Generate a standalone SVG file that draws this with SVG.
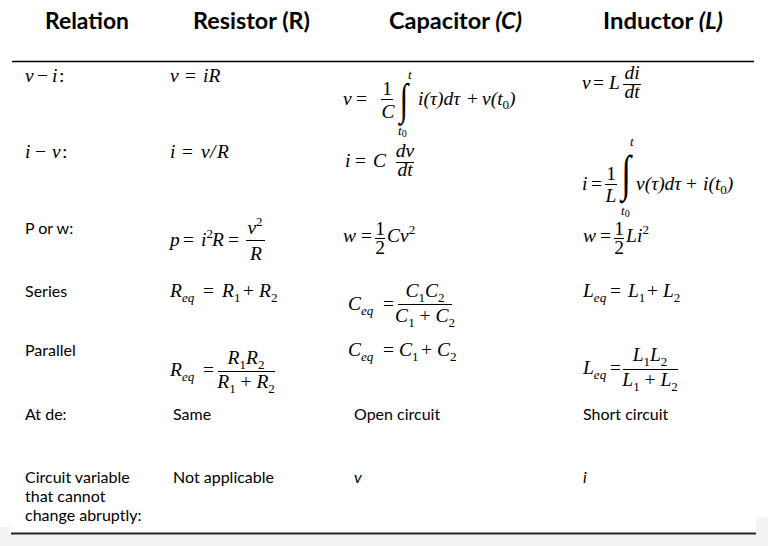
<svg xmlns="http://www.w3.org/2000/svg" width="768" height="546" viewBox="0 0 768 546">
<style>
.h{font-family:Lato,"Liberation Sans",sans-serif;font-weight:700;font-size:23.5px;fill:#000}
.hi{font-style:italic}
.t{font-family:Lato,"Liberation Sans",sans-serif;font-size:16px;fill:#000}
.ti{font-style:italic}
.m{font-family:"Liberation Serif","DejaVu Serif",serif;font-style:italic;font-size:19.5px;fill:#000}
.n{font-style:normal}
.s{font-size:13px}
.lim{font-size:13px}
.big{font-family:"Liberation Serif","DejaVu Serif",serif;font-style:normal;fill:#000}
.bar{stroke:#000;stroke-width:1}
.rule{stroke:#000;stroke-width:1.6}
</style>
<rect width="768" height="546" fill="#f3f3f3"/>
<path d="M0 0H768V517H756V535H10V527H0Z" fill="#fff"/>
<g id="rules">
<line class="rule" x1="12" y1="61.5" x2="754" y2="61.5"/>
<line x1="11" y1="533.5" x2="756" y2="533.5" stroke="#222" stroke-width="2"/>
</g>
<g id="header">
<text class="h" x="45" y="29" textLength="84" lengthAdjust="spacingAndGlyphs">Relation</text>
<text class="h" x="193" y="29" textLength="117" lengthAdjust="spacingAndGlyphs">Resistor (R)</text>
<text class="h" x="389" y="29" textLength="133" lengthAdjust="spacingAndGlyphs">Capacitor <tspan class="hi">(C)</tspan></text>
<text class="h" x="603" y="29" textLength="120" lengthAdjust="spacingAndGlyphs">Inductor <tspan class="hi">(L)</tspan></text>
</g>
<g id="row-vi">
<text class="m" y="82"><tspan x="25">v</tspan><tspan x="37" class="n">−</tspan><tspan x="52">i</tspan><tspan x="59" class="n">:</tspan></text>
<text class="m" y="82"><tspan x="170">v</tspan><tspan x="185" class="n">=</tspan><tspan x="203">iR</tspan></text>
<g id="cap-vi">
<text class="m" y="105"><tspan x="343">v</tspan><tspan x="356" class="n">=</tspan></text>
<text class="m n" x="387" y="94.5" text-anchor="middle">1</text>
<line class="bar" x1="381" y1="99.5" x2="393" y2="99.5"/>
<text class="m" x="388" y="118" text-anchor="middle">C</text>
<text class="big" font-size="44" transform="translate(404 114) scale(0.7 1)" text-anchor="middle">∫</text>
<text class="m lim" x="408" y="79">t</text>
<text class="m lim" x="398" y="135">t<tspan class="n" font-size="10" dy="2">0</tspan></text>
<text class="m" y="105"><tspan x="418">i(τ)dτ</tspan><tspan x="467" class="n">+</tspan><tspan x="482">v(t</tspan><tspan class="n s" dy="4">0</tspan><tspan dy="-4">)</tspan></text>
</g>
<g id="ind-vi">
<text class="m" y="88.5"><tspan x="582">v</tspan><tspan x="593" class="n">=</tspan><tspan x="609">L</tspan></text>
<text class="m" x="632" y="79" text-anchor="middle">di</text>
<line class="bar" x1="623" y1="84.5" x2="641" y2="84.5"/>
<text class="m" x="632" y="98" text-anchor="middle">dt</text>
</g>
</g>
<g id="row-iv">
<text class="m" y="158"><tspan x="25">i</tspan><tspan x="35" class="n">−</tspan><tspan x="52">v</tspan><tspan x="62" class="n">:</tspan></text>
<text class="m" y="158"><tspan x="170">i</tspan><tspan x="182" class="n">=</tspan><tspan x="201">v</tspan><tspan x="210">/</tspan><tspan x="217">R</tspan></text>
<g id="cap-iv">
<text class="m" y="167"><tspan x="345">i</tspan><tspan x="355" class="n">=</tspan><tspan x="373">C</tspan></text>
<text class="m" x="405" y="157" text-anchor="middle">dv</text>
<line class="bar" x1="396" y1="162.5" x2="414" y2="162.5"/>
<text class="m" x="405" y="176" text-anchor="middle">dt</text>
</g>
<g id="ind-iv">
<text class="m" y="189.5"><tspan x="582">i</tspan><tspan x="591" class="n">=</tspan></text>
<text class="m n" x="611" y="179.5" text-anchor="middle">1</text>
<line class="bar" x1="605" y1="184.5" x2="617" y2="184.5"/>
<text class="m" x="611" y="202" text-anchor="middle">L</text>
<text class="big" font-size="50" transform="translate(626 190) scale(0.7 1)" text-anchor="middle">∫</text>
<text class="m lim" x="630" y="145.5">t</text>
<text class="m lim" x="621" y="215">t<tspan class="n" font-size="10" dy="2">0</tspan></text>
<text class="m" y="189.5"><tspan x="636">v(τ)dτ</tspan><tspan x="686" class="n">+</tspan><tspan x="703">i(t</tspan><tspan class="n s" dy="4">0</tspan><tspan dy="-4">)</tspan></text>
</g>
</g>
<g id="row-pw">
<text class="t" x="25" y="234">P or w:</text>
<g id="res-pw">
<text class="m" y="246"><tspan x="170">p</tspan><tspan x="183" class="n">=</tspan><tspan x="201">i</tspan><tspan class="n s" dy="-8">2</tspan><tspan x="212" dy="8">R</tspan><tspan x="228" class="n">=</tspan></text>
<text class="m" x="255" y="234" text-anchor="middle">v<tspan class="n s" dy="-8">2</tspan></text>
<line class="bar" x1="246" y1="240.5" x2="265" y2="240.5"/>
<text class="m" x="256" y="260" text-anchor="middle">R</text>
</g>
<g id="cap-pw">
<text class="m" y="242"><tspan x="343">w</tspan><tspan x="361" class="n">=</tspan><tspan x="387">C</tspan><tspan x="400">v</tspan><tspan class="n s" dy="-8">2</tspan></text>
<text class="m n" x="380" y="235" text-anchor="middle">1</text>
<line class="bar" x1="375" y1="238.5" x2="385" y2="238.5"/>
<text class="m n" x="380" y="254" text-anchor="middle">2</text>
</g>
<g id="ind-pw">
<text class="m" y="242"><tspan x="583">w</tspan><tspan x="600" class="n">=</tspan><tspan x="626">L</tspan><tspan x="637">i</tspan><tspan class="n s" dy="-8">2</tspan></text>
<text class="m n" x="619" y="235" text-anchor="middle">1</text>
<line class="bar" x1="614" y1="238.5" x2="624" y2="238.5"/>
<text class="m n" x="619" y="254" text-anchor="middle">2</text>
</g>
</g>
<g id="row-series">
<text class="t" x="25" y="297">Series</text>
<text class="m" y="297"><tspan x="170">R</tspan><tspan class="s" dy="4.5">eq</tspan><tspan x="203" dy="-4.5" class="n">=</tspan><tspan x="222">R</tspan><tspan class="n s" dy="4.5">1</tspan><tspan x="243" dy="-4.5" class="n">+</tspan><tspan x="259">R</tspan><tspan class="n s" dy="4.5">2</tspan></text>
<g id="cap-series">
<text class="m" y="310"><tspan x="348">C</tspan><tspan class="s" dy="4.5">eq</tspan><tspan x="383" dy="-4.5" class="n">=</tspan></text>
<text class="m" x="425" y="297" text-anchor="middle">C<tspan class="n s" dy="4.5">1</tspan><tspan dy="-4.5">C</tspan><tspan class="n s" dy="4.5">2</tspan></text>
<line class="bar" x1="398" y1="304.5" x2="452" y2="304.5"/>
<text class="m" x="425" y="322" text-anchor="middle">C<tspan class="n s" dy="4.5">1</tspan><tspan class="n" dy="-4.5">&#160;+&#160;</tspan>C<tspan class="n s" dy="4.5">2</tspan></text>
</g>
<text class="m" y="297"><tspan x="583">L</tspan><tspan class="s" dy="4.5">eq</tspan><tspan x="610" dy="-4.5" class="n">=</tspan><tspan x="628">L</tspan><tspan class="n s" dy="4.5">1</tspan><tspan x="647" dy="-4.5" class="n">+</tspan><tspan x="663">L</tspan><tspan class="n s" dy="4.5">2</tspan></text>
</g>
<g id="row-parallel">
<text class="t" x="25" y="356">Parallel</text>
<g id="res-parallel">
<text class="m" y="376"><tspan x="170">R</tspan><tspan class="s" dy="4.5">eq</tspan><tspan x="203" dy="-4.5" class="n">=</tspan></text>
<text class="m" x="246" y="364" text-anchor="middle">R<tspan class="n s" dy="4.5">1</tspan><tspan dy="-4.5">R</tspan><tspan class="n s" dy="4.5">2</tspan></text>
<line class="bar" x1="218" y1="371.5" x2="275" y2="371.5"/>
<text class="m" x="246" y="388" text-anchor="middle">R<tspan class="n s" dy="4.5">1</tspan><tspan class="n" dy="-4.5">&#160;+&#160;</tspan>R<tspan class="n s" dy="4.5">2</tspan></text>
</g>
<text class="m" y="356"><tspan x="348">C</tspan><tspan class="s" dy="4.5">eq</tspan><tspan x="383" dy="-4.5" class="n">=</tspan><tspan x="399">C</tspan><tspan class="n s" dy="4.5">1</tspan><tspan x="421" dy="-4.5" class="n">+</tspan><tspan x="437">C</tspan><tspan class="n s" dy="4.5">2</tspan></text>
<g id="ind-parallel">
<text class="m" y="374"><tspan x="583">L</tspan><tspan class="s" dy="4.5">eq</tspan><tspan x="610" dy="-4.5" class="n">=</tspan></text>
<text class="m" x="650" y="361" text-anchor="middle">L<tspan class="n s" dy="4.5">1</tspan><tspan dy="-4.5">L</tspan><tspan class="n s" dy="4.5">2</tspan></text>
<line class="bar" x1="623" y1="369.5" x2="678" y2="369.5"/>
<text class="m" x="650" y="386" text-anchor="middle">L<tspan class="n s" dy="4.5">1</tspan><tspan class="n" dy="-4.5">&#160;+&#160;</tspan>L<tspan class="n s" dy="4.5">2</tspan></text>
</g>
</g>
<g id="row-dc">
<text class="t" x="25" y="420">At de:</text>
<text class="t" x="173" y="420">Same</text>
<text class="t" x="354" y="420">Open circuit</text>
<text class="t" x="583" y="420">Short circuit</text>
</g>
<g id="row-abrupt">
<text class="t" x="25" y="483">Circuit variable</text>
<text class="t" x="25" y="502">that cannot</text>
<text class="t" x="25" y="521">change abruptly:</text>
<text class="t" x="173" y="483">Not applicable</text>
<text class="t ti" x="354" y="483">v</text>
<text class="t ti" x="583" y="483">i</text>
</g>
</svg>
